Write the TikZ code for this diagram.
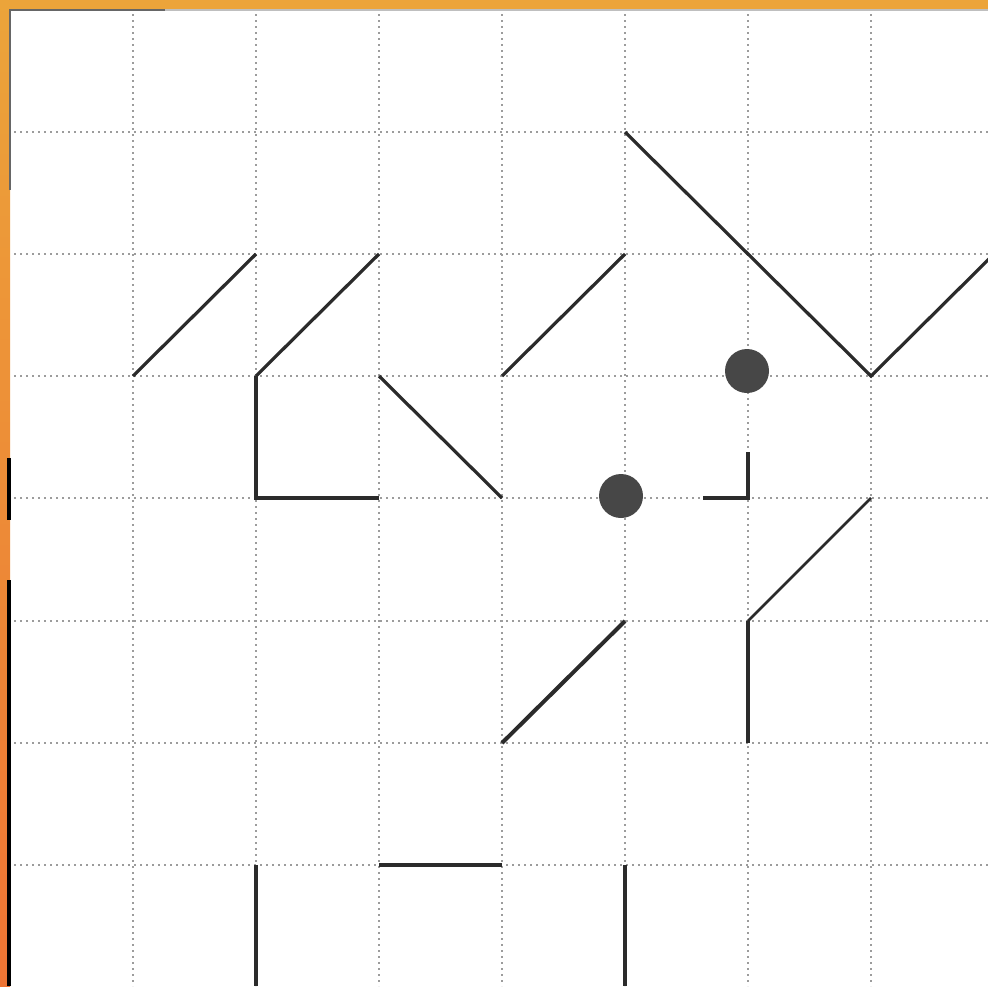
\documentclass[tikz,border=0pt]{standalone}
\usetikzlibrary{calc}
\definecolor{inkc}{HTML}{2B2B2B}
\definecolor{dotc}{HTML}{474747}
\definecolor{gridc}{HTML}{9C9C9C}
\definecolor{frameTop}{HTML}{ECA43A}
\definecolor{frameBot}{HTML}{EE7434}
\tikzset{
  gridline/.style={gridc, line width=1pt, dash pattern=on 0.9pt off 2.1pt},
  seg/.style={inkc, line width=1.6pt, line join=miter},
  thickseg/.style={inkc, line width=2pt},
  thinseg/.style={inkc, line width=1.3pt},
  spot/.style={fill=dotc, draw=none},
}
\begin{document}
\begin{tikzpicture}[x=0.5pt,y=-0.5pt]
\useasboundingbox (0,0) rectangle (988,986);
\fill[white] (0,0) rectangle (988,986);
% grid
\foreach \gx in {133,256,379,502,625,748,871}
  \draw[gridline] (\gx,14) -- (\gx,986);
\foreach \gy in {132,254,376,498,621,743,865}
  \draw[gridline] (14,\gy) -- (988,\gy);
% frame
\shade[top color=frameTop, bottom color=frameBot] (0,0) rectangle (10,986);
\fill[frameTop] (0,0) rectangle (988,9);
\draw[gray!80!black, line width=0.9pt] (10,190) -- (10,10) -- (165,10);
\draw[gray!50, line width=0.6pt] (165,10) -- (988,10);
\draw[black, line width=1.6pt] (9,458) -- (9,520);
\draw[black, line width=1.6pt] (9,580) -- (9,986);
% segments
\draw[seg] (133,376) -- (256,254);
\draw[seg] (256,376) -- (379,254);
\draw[seg] (256,376) -- (256,498) -- (379,498);
\draw[seg] (379,376) -- (502,498);
\draw[seg] (502,376) -- (625,254);
\draw[seg] (625,132) -- (748,254) -- (871,376) -- (994,254);
\draw[seg] (748,452) -- (748,498) -- (703,498);
\draw[thinseg] (871,498) -- (748,621);
\draw[seg] (748,621) -- (748,743);
\draw[thickseg] (502,743) -- (625,621);
\draw[thickseg] (379,865) -- (502,865);
\draw[seg] (256,865) -- (256,986);
\draw[seg] (625,865) -- (625,986);
% dots
\fill[spot] (747,371) circle (22);
\fill[spot] (621,496) circle (22);
\end{tikzpicture}
\end{document}
